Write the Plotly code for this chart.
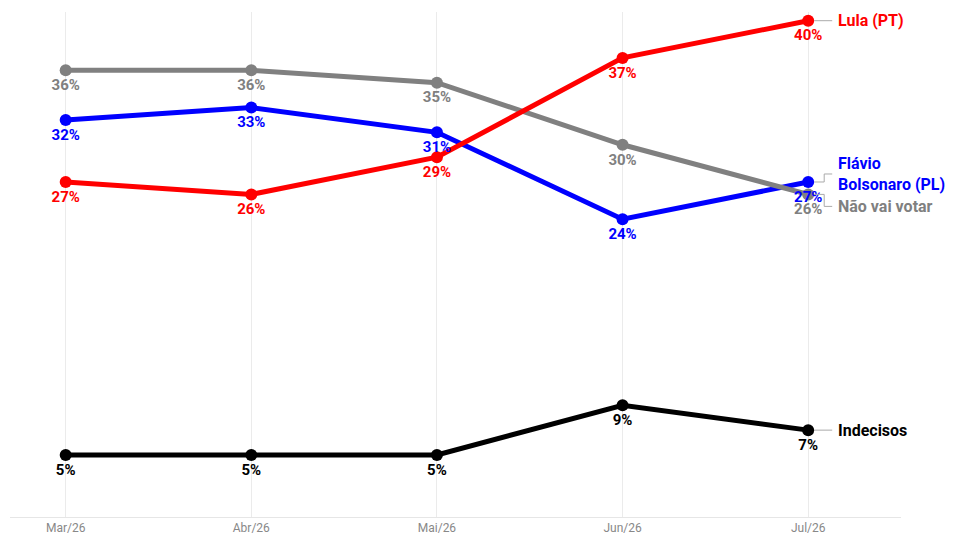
import plotly.graph_objects as go

meses = ["Mar/26", "Abr/26", "Mai/26", "Jun/26", "Jul/26"]

lula = [27, 26, 29, 37, 40]
flavio = [32, 33, 31, 24, 27]
nao_vota = [36, 36, 35, 30, 26]
indecisos = [5, 5, 5, 9, 7]

nomes = ["Flávio<br>Bolsonaro (PL)", "Não vai votar", "Indecisos", "Lula (PT)"]
series = [flavio, nao_vota, indecisos, lula]
cores = ["#0000ff", "#808080", "#000000", "#ff0000"]

FONTE = "Roboto"

fig = go.Figure()
# linhas
for nome, vals, cor in zip(nomes, series, cores):
    fig.add_trace(go.Scatter(
        x=meses, y=vals, mode="lines+markers",
        line=dict(color=cor, width=5),
        marker=dict(color=cor, size=12),
        name=nome, showlegend=False,
    ))
# valores por cima das linhas (marcador invisivel so para o afastamento)
for nome, vals, cor in zip(nomes, series, cores):
    fig.add_trace(go.Scatter(
        x=meses, y=vals, mode="markers+text",
        marker=dict(size=12, color="rgba(0,0,0,0)"),
        text=[f"<b>{v}%</b>" for v in vals],
        textposition="bottom center",
        textfont=dict(color=cor, size=15, family=FONTE),
        showlegend=False, hoverinfo="skip",
    ))

# rotulos finais + linhas-guia
desloc = {"Lula (PT)": 0, "Flávio<br>Bolsonaro (PL)": 8, "Não vai votar": -12, "Indecisos": 0}
for nome, vals, cor in zip(nomes, series, cores):
    dy = desloc[nome]
    fig.add_annotation(
        x=meses[-1], y=vals[-1], xref="x", yref="y",
        text=f"<b>{nome}</b>", showarrow=False,
        xanchor="left", yanchor="middle", align="left",
        xshift=28, yshift=dy,
        font=dict(color=cor, size=16, family=FONTE),
    )
    if dy == 0:
        caminho = "M 6 0 L 24 0"
    else:
        caminho = f"M 6 0 L 16 0 L 16 {dy} L 24 {dy}"
    fig.add_shape(
        type="path", xref="x", yref="y",
        xsizemode="pixel", ysizemode="pixel",
        xanchor=len(meses) - 1, yanchor=vals[-1],
        path=caminho, line=dict(color="#aaaaaa", width=1),
    )

fig.update_layout(
    width=960, height=540,
    paper_bgcolor="white", plot_bgcolor="white",
    margin=dict(l=2, r=67, t=4, b=31),
    font=dict(family=FONTE),
)
fig.update_xaxes(
    type="category", range=[-0.3, 4.5],
    showgrid=True, gridcolor="#ebebeb", gridwidth=1,
    showline=True, linecolor="#e6e6e6", linewidth=1,
    ticks="", tickfont=dict(color="#888888", size=12, family=FONTE),
    zeroline=False,
)
fig.update_yaxes(
    range=[0, 40.7], showgrid=False, zeroline=False,
    showticklabels=False, showline=False,
)

fig.write_html("out.html")
